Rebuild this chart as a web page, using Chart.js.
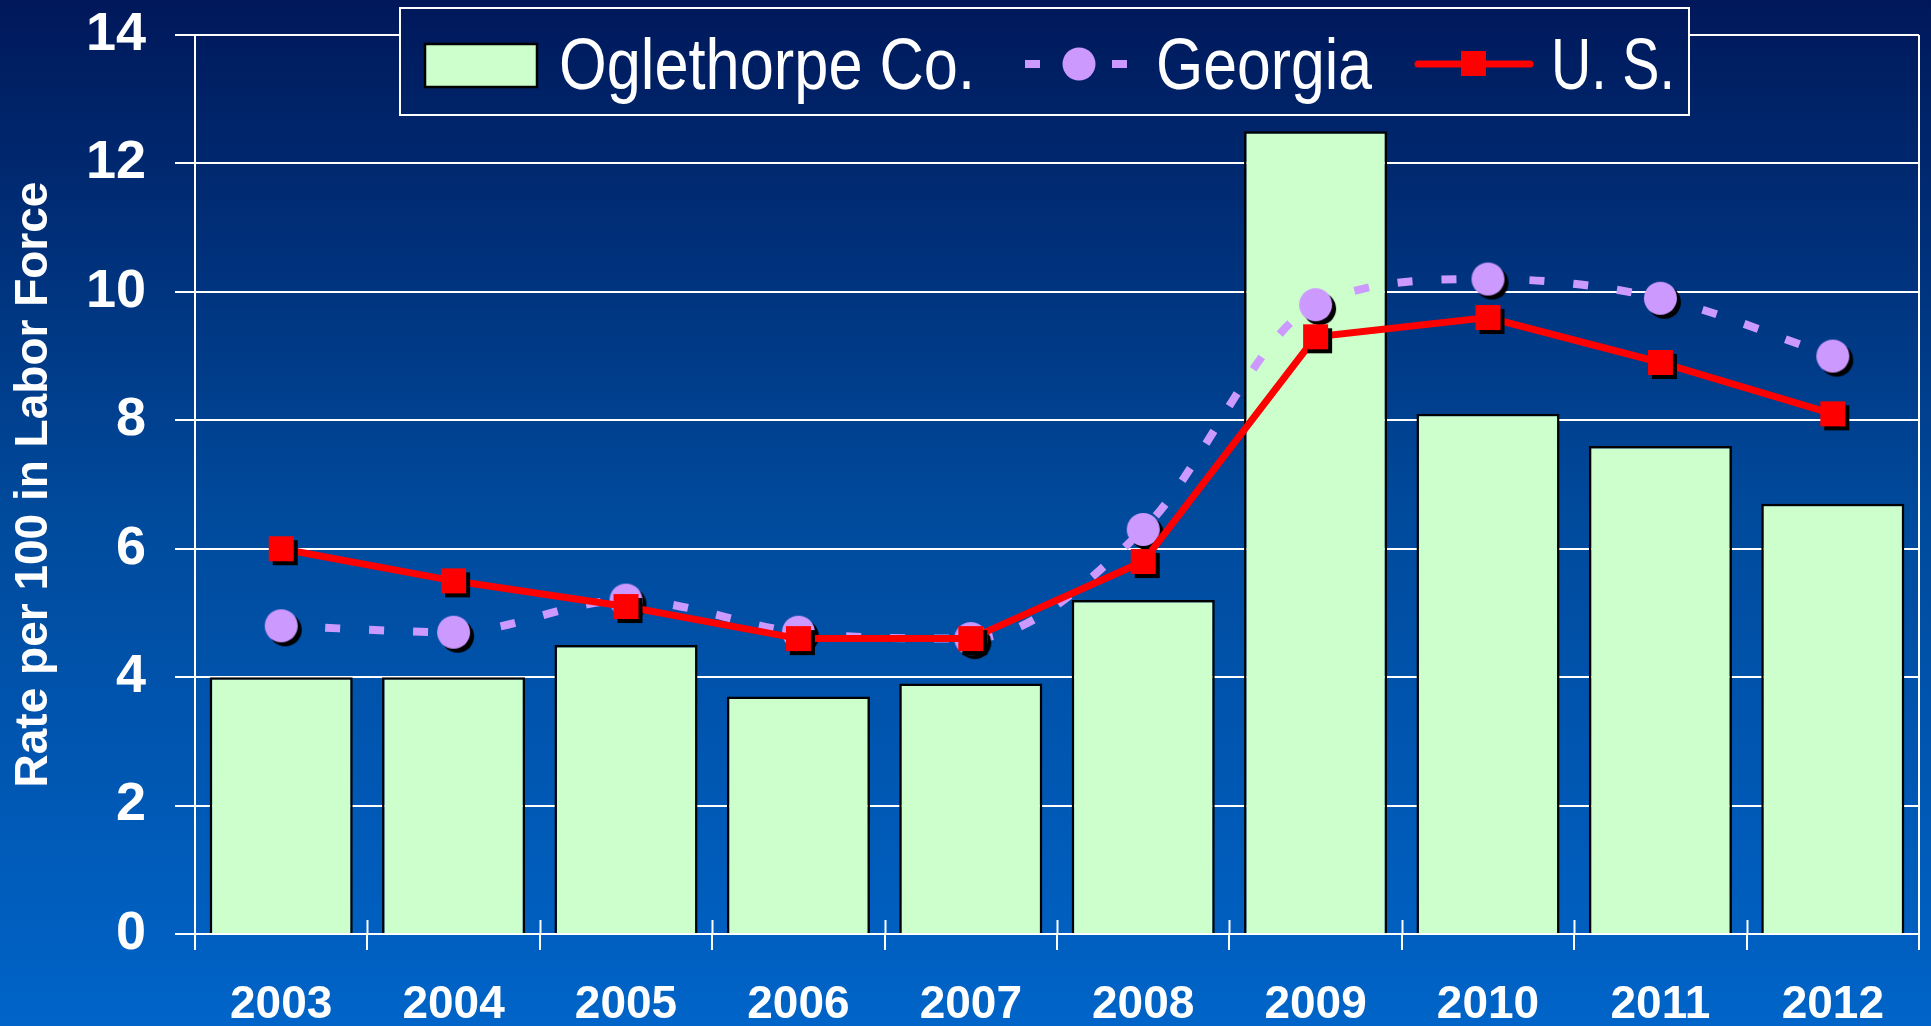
<!DOCTYPE html>
<html>
<head>
<meta charset="utf-8">
<title>Unemployment rate</title>
<script src="https://cdn.jsdelivr.net/npm/chart.js@4.4.1/dist/chart.umd.min.js"></script>
<style>
    html, body { margin: 0; padding: 0; background: #002a6e; }
    #wrap { width: 1931px; height: 1026px; position: relative; }
</style>
</head>
<body>
<div id="wrap"><canvas id="mycanvas"></canvas></div>
<script>
var years = ['2003', '2004', '2005', '2006', '2007', '2008', '2009', '2010', '2011', '2012'];
var oglethorpe = [4.0, 4.0, 4.5, 3.7, 3.9, 5.2, 12.5, 8.1, 7.6, 6.7];
var georgia = [4.8, 4.7, 5.2, 4.7, 4.6, 6.3, 9.8, 10.2, 9.9, 9.0];
var us = [6.0, 5.5, 5.1, 4.6, 4.6, 5.8, 9.3, 9.6, 8.9, 8.1];
var yTicks = [0, 2, 4, 6, 8, 10, 12, 14];
var seriesNames = ['Oglethorpe Co.', 'Georgia', 'U. S.'];

var ARIAL = '"Liberation Sans", Arial, sans-serif';

function bgGradient(ctx, h) {
    var g = ctx.createLinearGradient(0, 0, 0, h);
    g.addColorStop(0, '#00185a');
    g.addColorStop(0.5, '#004a9c');
    g.addColorStop(1, '#0064c8');
    return g;
}

// marker images with a black drop shadow built in
function circleMarker(r, off) {
    var c = document.createElement('canvas');
    var s = Math.ceil(2 * (r + off) + 2);
    c.width = s; c.height = s;
    var x = c.getContext('2d');
    x.fillStyle = '#000000';
    x.beginPath(); x.arc(s / 2 + off, s / 2 + off, r, 0, Math.PI * 2); x.fill();
    x.fillStyle = '#cc99ff';
    x.beginPath(); x.arc(s / 2, s / 2, r, 0, Math.PI * 2); x.fill();
    return c;
}

function squareMarker(half, off) {
    var c = document.createElement('canvas');
    var s = Math.ceil(2 * (half + off) + 2);
    c.width = s; c.height = s;
    var x = c.getContext('2d');
    x.fillStyle = '#000000';
    x.fillRect(s / 2 - half + off, s / 2 - half + off, 2 * half, 2 * half);
    x.fillStyle = '#ff0000';
    x.fillRect(s / 2 - half, s / 2 - half, 2 * half, 2 * half);
    return c;
}

var backgroundPlugin = {
    id: 'background',
    beforeDraw: function (chart) {
        var ctx = chart.ctx;
        ctx.save();
        ctx.fillStyle = bgGradient(ctx, chart.height);
        ctx.fillRect(0, 0, chart.width, chart.height);
        ctx.restore();
    }
};

// right border of the plot and the upper half of the category ticks
var framePlugin = {
    id: 'frame',
    afterDraw: function (chart) {
        var ctx = chart.ctx;
        var a = chart.chartArea;
        var xs = chart.scales.x;
        var w = (xs.right - xs.left) / years.length;
        ctx.save();
        ctx.strokeStyle = '#ffffff';
        ctx.lineWidth = 2;
        ctx.beginPath();
        ctx.moveTo(a.right, a.top);
        ctx.lineTo(a.right, a.bottom + 16);
        for (var i = 1; i < years.length; i++) {
            var px = Math.round(xs.left + i * w) + 0.5;
            ctx.moveTo(px, a.bottom - 14);
            ctx.lineTo(px, a.bottom);
        }
        ctx.stroke();
        ctx.restore();
    }
};

var legendPlugin = {
    id: 'boxLegend',
    afterDraw: function (chart) {
        var ctx = chart.ctx;
        ctx.save();
        // box
        ctx.fillStyle = bgGradient(ctx, chart.height);
        ctx.fillRect(400, 8, 1289, 107);
        ctx.strokeStyle = '#ffffff';
        ctx.lineWidth = 2;
        ctx.strokeRect(400, 8, 1289, 107);

        // Oglethorpe sample
        ctx.fillStyle = '#ccffcc';
        ctx.fillRect(425, 44, 112, 43);
        ctx.strokeStyle = '#000000';
        ctx.lineWidth = 2.5;
        ctx.strokeRect(425, 44, 112, 43);

        // Georgia sample
        ctx.fillStyle = '#cc99ff';
        ctx.fillRect(1025, 60, 15, 8);
        ctx.fillRect(1112, 60, 15, 8);
        ctx.beginPath();
        ctx.arc(1079, 64, 16.5, 0, Math.PI * 2);
        ctx.fill();

        // U.S. sample
        ctx.strokeStyle = '#ff0000';
        ctx.lineWidth = 7;
        ctx.lineCap = 'round';
        ctx.beginPath();
        ctx.moveTo(1418, 64);
        ctx.lineTo(1530, 64);
        ctx.stroke();
        ctx.fillStyle = '#ff0000';
        ctx.fillRect(1461, 51, 25, 25);

        // labels, squeezed to the narrow face of the original
        ctx.fillStyle = '#ffffff';
        ctx.font = '72px ' + ARIAL;
        ctx.textBaseline = 'alphabetic';
        ctx.textAlign = 'left';
        ctx.fillText(seriesNames[0], 559, 89, 416);
        ctx.fillText(seriesNames[1], 1156, 89, 216);
        ctx.fillText(seriesNames[2], 1551, 89, 124);
        ctx.restore();
    }
};

Chart.defaults.font.family = ARIAL;
Chart.defaults.color = '#ffffff';

var chartdata = {
    labels: years,
    datasets: [
        {
            type: 'line',
            label: seriesNames[2],
            data: us,
            order: 1,
            borderColor: '#ff0000',
            borderWidth: 7,
            tension: 0,
            pointStyle: squareMarker(12.5, 4),
            pointRadius: 17,
            pointHoverRadius: 17
        },
        {
            type: 'line',
            label: seriesNames[1],
            data: georgia,
            order: 2,
            borderColor: '#cc99ff',
            borderWidth: 8,
            borderDash: [15, 29],
            cubicInterpolationMode: 'monotone',
            pointStyle: circleMarker(16.5, 4),
            pointRadius: 17,
            pointHoverRadius: 17
        },
        {
            type: 'bar',
            label: seriesNames[0],
            data: oglethorpe,
            order: 3,
            backgroundColor: '#ccffcc',
            borderColor: '#000000',
            borderWidth: 2.5,
            categoryPercentage: 1.0,
            barPercentage: 0.83
        }
    ]
};

var ctx = document.getElementById('mycanvas');

var unemploymentChart = new Chart(ctx, {
    type: 'bar',
    data: chartdata,
    plugins: [backgroundPlugin, framePlugin, legendPlugin],
    options: {
        responsive: true,
        maintainAspectRatio: false,
        animation: false,
        devicePixelRatio: 1,
        layout: {
            autoPadding: false,
            padding: { left: 0, right: 12, top: 35, bottom: 0 }
        },
        plugins: {
            legend: { display: false },
            tooltip: { enabled: false }
        },
        scales: {
            x: {
                offset: true,
                grid: {
                    offset: true,
                    drawOnChartArea: false,
                    color: '#ffffff',
                    lineWidth: 2,
                    tickLength: 16
                },
                border: { color: '#ffffff', width: 2 },
                ticks: {
                    color: '#ffffff',
                    font: { size: 46, weight: 'bold' },
                    padding: 28,
                    maxRotation: 0
                },
                afterFit: function (scale) {
                    scale.height = 92;
                    scale.paddingLeft = 0;
                    scale.paddingRight = 0;
                }
            },
            y: {
                min: 0,
                max: 14,
                afterBuildTicks: function (scale) {
                    scale.ticks = yTicks.map(function (v) { return { value: v }; });
                },
                grid: {
                    color: '#ffffff',
                    lineWidth: 2,
                    tickLength: 20
                },
                border: { color: '#ffffff', width: 2 },
                ticks: {
                    color: '#ffffff',
                    font: { size: 54, weight: 'bold' },
                    padding: 29
                },
                title: {
                    display: true,
                    text: 'Rate per 100 in Labor Force',
                    color: '#ffffff',
                    font: { size: 46, weight: 'bold', lineHeight: 1.2 },
                    padding: { top: 7, bottom: 0 }
                },
                afterFit: function (scale) {
                    scale.width = 195;
                    scale.paddingTop = 0;
                    scale.paddingBottom = 0;
                }
            }
        }
    }
});
</script>
</body>
</html>
